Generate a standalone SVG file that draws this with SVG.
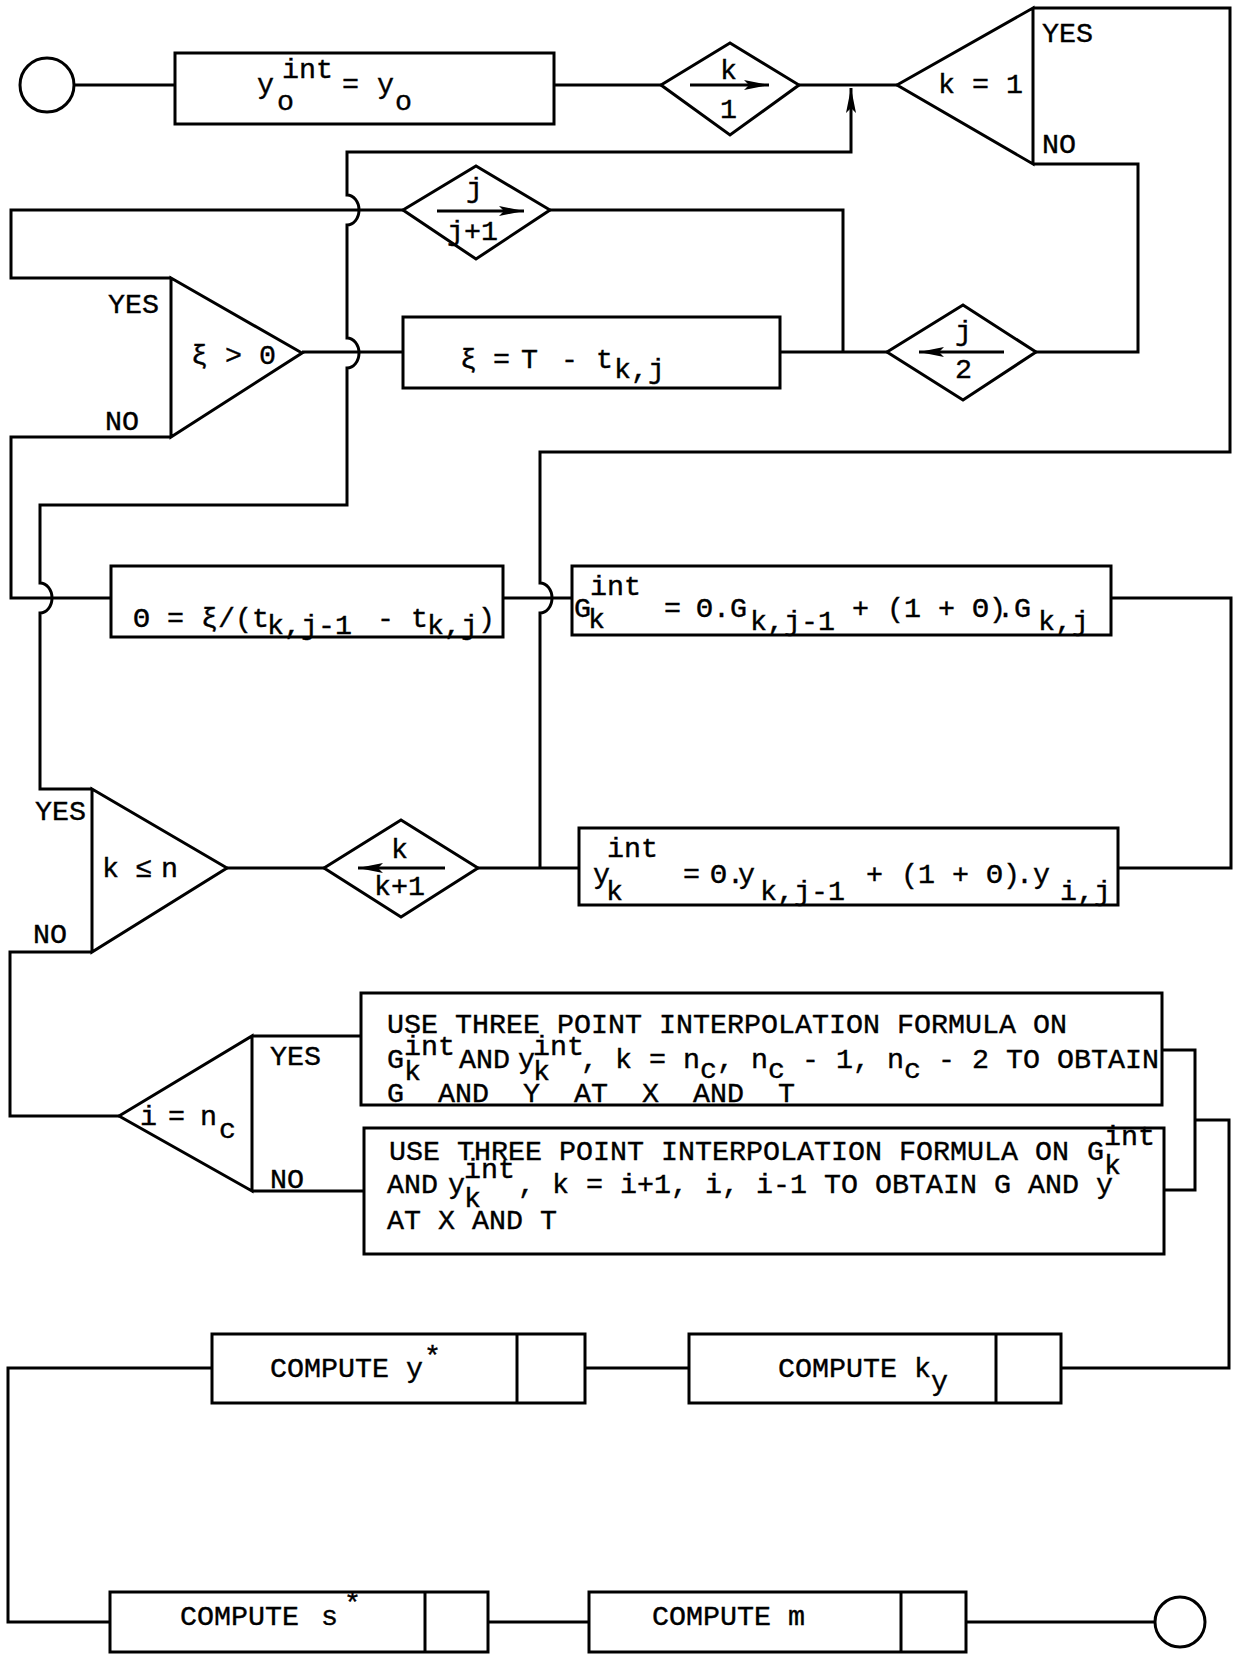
<svg xmlns="http://www.w3.org/2000/svg" width="1234" height="1655" viewBox="0 0 1234 1655">
<style>
.s{fill:none;stroke:#000;stroke-width:3;stroke-linejoin:miter}
.n{fill:#fff;stroke:#000;stroke-width:3}
.a{fill:none;stroke:#000;stroke-width:3}
text{font-family:"Liberation Mono","DejaVu Sans Mono",monospace;font-size:28.33px;fill:#000;stroke:#000;stroke-width:0.4}
</style>
<defs>
<marker id="ah" markerUnits="userSpaceOnUse" markerWidth="26" markerHeight="12" refX="25" refY="6" orient="auto" viewBox="0 0 26 12"><path d="M0,1 L25,6 L0,11 L5,6 z" fill="#000"/></marker>
</defs>
<rect width="1234" height="1655" fill="#fff"/>
<g id="connectors">
<path class="s" d="M74,85 H175"/>
<path class="s" d="M554,85 H661"/>
<path class="s" d="M799,85 H897"/>
<path class="s" d="M92,789 H40 V613 A12,15 0 0 0 40,583 V505 H347 V368 A12,15 0 0 0 347,338 V225 A12,15 0 0 0 347,195 V152 H851 V88" marker-end="url(#ah)"/>
<path class="s" d="M1033,8 H1230 V452 H540 V583 A12,15 0 0 1 540,613 V868"/>
<path class="s" d="M1033,164 H1138 V352 H1036"/>
<path class="s" d="M887,352 H780"/>
<path class="s" d="M550,210 H843 V352"/>
<path class="s" d="M403,352 H302"/>
<path class="s" d="M171,278 H11 V210 H403"/>
<path class="s" d="M171,437 H11 V598 H111"/>
<path class="s" d="M503,598 H572"/>
<path class="s" d="M1111,598 H1231 V868 H1118"/>
<path class="s" d="M579,868 H478"/>
<path class="s" d="M324,868 H227"/>
<path class="s" d="M92,952 H10 V1116 H119"/>
<path class="s" d="M252,1036 H361"/>
<path class="s" d="M252,1191 H364"/>
<path class="s" d="M1162,1050 H1195 V1190 H1164"/>
<path class="s" d="M1195,1120 H1229 V1368 H1061"/>
<path class="s" d="M689,1368 H585"/>
<path class="s" d="M212,1368 H8 V1622 H110"/>
<path class="s" d="M488,1622 H589"/>
<path class="s" d="M966,1622 H1155"/>
</g>
<g id="start">
<circle class="n" cx="47" cy="85" r="27"/>
</g>
<g id="init">
<rect class="n" x="175" y="53" width="379" height="71"/>
<text><tspan x="257" y="93">y</tspan><tspan x="282" y="78">int</tspan><tspan x="277" y="110">o</tspan><tspan x="342" y="93">=</tspan><tspan x="377" y="93">y</tspan><tspan x="395" y="110">o</tspan></text>
</g>
<g id="set-k-1">
<polygon class="n" points="661,85 730,43 799,85 730,135"/>
<path class="a" d="M690,85 H769" marker-end="url(#ah)"/>
<text><tspan x="720" y="79">k</tspan><tspan x="720" y="118">1</tspan></text>
</g>
<g id="test-k-eq-1">
<polygon class="n" points="897,85 1033,8 1033,164"/>
<text x="938" y="93">k = 1</text>
<text x="1042" y="42">YES</text>
<text x="1042" y="153">NO</text>
</g>
<g id="set-j-j1">
<polygon class="n" points="403,210 476,166 550,210 476,259"/>
<path class="a" d="M437,211 H524" marker-end="url(#ah)"/>
<text><tspan x="466" y="197">j</tspan><tspan x="447" y="240">j+1</tspan></text>
</g>
<g id="test-xi">
<polygon class="n" points="171,278 302,353 171,437"/>
<text x="191" y="364">ξ &gt; 0</text>
<text x="108" y="313">YES</text>
<text x="105" y="430">NO</text>
</g>
<g id="compute-xi">
<rect class="n" x="403" y="317" width="377" height="71"/>
<text><tspan x="460" y="368">ξ</tspan><tspan x="493" y="368">=</tspan><tspan x="521" y="368">T</tspan><tspan x="561" y="368">-</tspan><tspan x="596" y="368">t</tspan><tspan x="614" y="378">k,j</tspan></text>
</g>
<g id="set-j-2">
<polygon class="n" points="887,352 963,305 1036,352 963,400"/>
<path class="a" d="M1004,352 H919" marker-end="url(#ah)"/>
<text><tspan x="955" y="340">j</tspan><tspan x="955" y="378">2</tspan></text>
</g>
<g id="compute-theta">
<rect class="n" x="111" y="566" width="392" height="71"/>
<text xml:space="preserve"><tspan x="133" y="627">Θ = ξ/(t</tspan><tspan x="267" y="634">k,j-1</tspan><tspan x="377" y="627">- t</tspan><tspan x="427" y="634">k,j</tspan><tspan x="478" y="627">)</tspan></text>
</g>
<g id="compute-g">
<rect class="n" x="572" y="566" width="539" height="69"/>
<text xml:space="preserve"><tspan x="574" y="617">G</tspan><tspan x="590" y="595">int</tspan><tspan x="588" y="628">k</tspan><tspan x="664" y="617">=</tspan><tspan x="696" y="617">Θ.G</tspan><tspan x="750" y="630">k,j-1</tspan><tspan x="852" y="617">+</tspan><tspan x="887" y="617">(1 + Θ)</tspan><tspan x="997" y="617">.G</tspan><tspan x="1038" y="630">k,j</tspan></text>
</g>
<g id="compute-y">
<rect class="n" x="579" y="828" width="539" height="77"/>
<text xml:space="preserve"><tspan x="593" y="883">y</tspan><tspan x="607" y="857">int</tspan><tspan x="606" y="900">k</tspan><tspan x="683" y="883">=</tspan><tspan x="710" y="883">Θ.</tspan><tspan x="738" y="883">y</tspan><tspan x="760" y="900">k,j-1</tspan><tspan x="866" y="883">+</tspan><tspan x="901" y="883">(1 + Θ)</tspan><tspan x="1016" y="883">.y</tspan><tspan x="1060" y="900">i,j</tspan></text>
</g>
<g id="set-k-k1">
<polygon class="n" points="324,868 401,820 478,868 401,917"/>
<path class="a" d="M445,868 H358" marker-end="url(#ah)"/>
<text><tspan x="391" y="858">k</tspan><tspan x="374" y="895">k+1</tspan></text>
</g>
<g id="test-k-le-n">
<polygon class="n" points="92,789 227,868 92,952"/>
<text><tspan x="102" y="877">k</tspan><tspan x="135" y="877">≤</tspan><tspan x="161" y="877">n</tspan></text>
<text x="35" y="820">YES</text>
<text x="33" y="943">NO</text>
</g>
<g id="test-i-nc">
<polygon class="n" points="119,1116 252,1036 252,1191"/>
<text><tspan x="140" y="1125">i</tspan><tspan x="168" y="1125">=</tspan><tspan x="200" y="1125">n</tspan><tspan x="219" y="1138">c</tspan></text>
<text x="270" y="1065">YES</text>
<text x="270" y="1188">NO</text>
</g>
<g id="interp-end">
<rect class="n" x="361" y="993" width="801" height="112"/>
<text xml:space="preserve"><tspan x="387" y="1033">USE THREE POINT INTERPOLATION FORMULA ON</tspan><tspan x="387" y="1068">G</tspan><tspan x="404" y="1055">int</tspan><tspan x="404" y="1080">k</tspan><tspan x="459" y="1068">AND</tspan><tspan x="518" y="1068">y</tspan><tspan x="533" y="1055">int</tspan><tspan x="533" y="1080">k</tspan><tspan x="581" y="1068">, k = n</tspan><tspan x="700" y="1078">c</tspan><tspan x="717" y="1068">, n</tspan><tspan x="768" y="1078">c</tspan><tspan x="785" y="1068"> - 1, n</tspan><tspan x="904" y="1078">c</tspan><tspan x="921" y="1068"> - 2 TO OBTAIN</tspan><tspan x="387" y="1102">G  AND  Y  AT  X  AND  T</tspan></text>
</g>
<g id="interp-mid">
<rect class="n" x="364" y="1128" width="800" height="126"/>
<text xml:space="preserve"><tspan x="389" y="1160">USE THREE POINT INTERPOLATION FORMULA ON</tspan><tspan x="1087" y="1160">G</tspan><tspan x="1104" y="1145">int</tspan><tspan x="1104" y="1174">k</tspan><tspan x="387" y="1193">AND</tspan><tspan x="448" y="1193">y</tspan><tspan x="464" y="1178">int</tspan><tspan x="464" y="1207">k</tspan><tspan x="518" y="1193">, k = i+1, i, i-1 TO OBTAIN G AND y</tspan><tspan x="387" y="1229">AT X AND T</tspan></text>
</g>
<g id="compute-ystar">
<rect class="n" x="212" y="1334" width="373" height="69"/>
<path class="s" d="M517,1334 V1403"/>
<text><tspan x="270" y="1377">COMPUTE y</tspan><tspan x="424" y="1365">*</tspan></text>
</g>
<g id="compute-ky">
<rect class="n" x="689" y="1334" width="372" height="69"/>
<path class="s" d="M996,1334 V1403"/>
<text><tspan x="778" y="1377">COMPUTE k</tspan><tspan x="931" y="1390">y</tspan></text>
</g>
<g id="compute-sstar">
<rect class="n" x="110" y="1592" width="378" height="60"/>
<path class="s" d="M425,1592 V1652"/>
<text><tspan x="180" y="1625">COMPUTE</tspan><tspan x="321" y="1625">s</tspan><tspan x="344" y="1612">*</tspan></text>
</g>
<g id="compute-m">
<rect class="n" x="589" y="1592" width="377" height="60"/>
<path class="s" d="M901,1592 V1652"/>
<text x="652" y="1625">COMPUTE m</text>
</g>
<g id="end">
<circle class="n" cx="1180" cy="1622" r="25"/>
</g>
</svg>
